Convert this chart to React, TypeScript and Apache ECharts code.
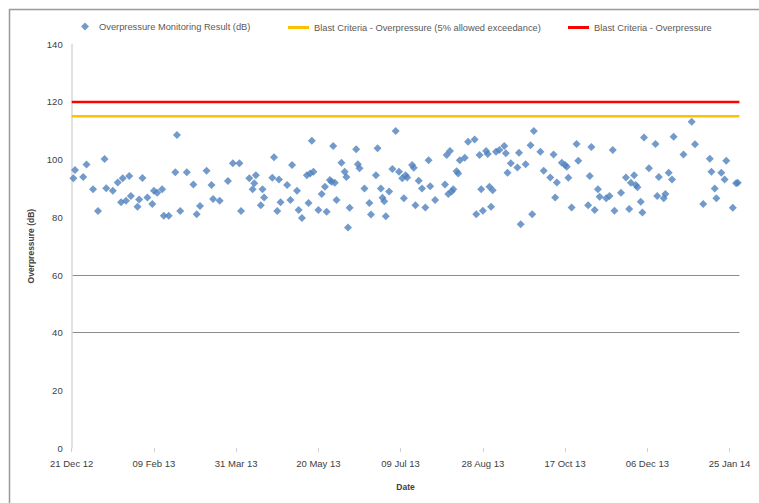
import React, { useEffect, useRef } from "react";
import * as echarts from "echarts";

// Days since 21 Dec 2012 for each monitoring result
const sampleDay = [
  1, 2, 7, 9, 13, 16, 20, 21, 25, 28, 30, 31, 33, 35, 36, 40, 41, 43, 46, 49,
  50, 52, 55, 56, 59, 63, 64, 66, 70, 74, 76, 78, 82, 85, 86, 90, 95, 98, 102, 103,
  108, 110, 111, 112, 116, 117, 115, 122, 123, 126, 127, 125, 131, 133, 134, 137, 138, 140, 143, 144,
  145, 146, 147, 150, 152, 154, 155, 157, 158, 160, 159, 161, 164, 166, 167, 168, 169, 173, 174, 175,
  178, 181, 182, 185, 186, 188, 189, 190, 191, 193, 195, 197, 199, 201, 202, 203, 204, 207, 208,
  209, 211, 213, 215, 217, 218, 221, 227, 228, 230, 229, 231, 232, 234, 235, 236, 239, 241, 245, 246,
  248, 249, 250, 252, 253, 254, 256, 255, 258, 260, 263, 264, 265, 267, 271, 272, 273, 276, 279, 280,
  281, 285, 287, 291, 293, 294, 295, 298, 300, 301, 302, 304, 307, 308,
  314, 315, 316, 318, 320, 321, 325, 327, 329, 330, 334, 337, 339, 340, 342, 343, 344, 346, 347, 348,
  351, 355, 356, 357, 360, 361, 363, 365, 366, 372, 377, 379, 384, 388, 389, 391, 392, 395, 397, 398,
  402, 404, 405,
];

// Overpressure monitoring results (dB)
const overpressure = [
  93.5, 96.4, 94.0, 98.3, 89.7, 82.2, 100.2, 90.1, 89.2, 92.1, 85.2, 93.5, 85.7, 94.3, 87.4, 83.7, 86.2, 93.6, 86.9, 84.6,
  89.2, 88.5, 89.7, 80.5, 80.5, 95.6, 108.5, 82.2, 95.6, 91.4, 81.1, 83.9, 96.1, 91.2, 86.3, 85.7, 92.6, 98.7, 98.7, 82.2,
  93.5, 89.7, 91.8, 94.6, 89.7, 86.9, 84.2, 93.7, 100.8, 93.1, 85.2, 82.2, 91.2, 86.0, 98.1, 89.2, 82.5, 79.8, 94.6, 85.0,
  95.2, 106.5, 95.8, 82.5, 88.1, 90.6, 81.9, 92.9, 92.3, 92.0, 104.7, 86.0, 98.9, 95.8, 94.0, 76.5, 83.3, 103.6, 98.4, 97.0,
  90.0, 85.0, 81.0, 94.6, 103.9, 90.0, 86.8, 85.6, 80.4, 88.9, 96.7, 109.9, 95.8, 93.5, 86.6, 94.6, 93.8, 98.1, 97.2,
  84.2, 92.7, 90.0, 83.4, 99.8, 90.8, 86.0, 91.4, 101.6, 103.0, 88.1, 88.9, 89.7, 96.0, 95.2, 99.8, 100.6, 106.2, 107.0, 81.1,
  101.6, 89.7, 82.3, 103.0, 101.9, 90.6, 89.4, 83.7, 102.7, 103.3, 104.7, 102.2, 95.4, 98.7, 97.3, 102.4, 77.6, 98.4, 105.0, 81.1,
  109.9, 102.7, 96.1, 93.8, 101.8, 86.9, 92.1, 98.9, 98.1, 97.5, 93.7, 83.4, 105.4, 99.6,
  84.2, 94.3, 104.4, 82.5, 89.7, 87.1, 86.6, 87.4, 103.3, 82.3, 88.5, 93.8, 82.9, 92.0, 94.6, 91.2, 90.4, 85.4, 81.7, 107.7,
  97.0, 105.4, 87.4, 94.0, 86.6, 88.1, 95.4, 93.1, 107.9, 101.8, 113.1, 105.3, 84.6, 100.3, 95.8, 90.0, 86.6, 95.4, 93.1, 99.6,
  83.3, 91.8, 92.0,
];

// Criteria lines span the whole axis (days since 21 Dec 2012)
const criteriaDays = [0, 406];
const exceedanceCriterion = [115, 115];
const blastCriterion = [120, 120];

const xTickDays = [0, 50, 100, 150, 200, 250, 300, 350, 400];
const startUTC = Date.UTC(2012, 11, 21);
const monthNames = ["Jan", "Feb", "Mar", "Apr", "May", "Jun", "Jul", "Aug", "Sep", "Oct", "Nov", "Dec"];

const seriesNames = [
  "Overpressure Monitoring Result (dB)",
  "Blast Criteria - Overpressure (5% allowed exceedance)",
  "Blast Criteria - Overpressure",
];

function fmtDay(d: number): string {
  const dt = new Date(startUTC + Math.round(d) * 86400000);
  const dd = String(dt.getUTCDate()).padStart(2, "0");
  const yy = String(dt.getUTCFullYear() % 100).padStart(2, "0");
  return `${dd} ${monthNames[dt.getUTCMonth()]} ${yy}`;
}

export default function App() {
  const ref = useRef<HTMLDivElement>(null);
  useEffect(() => {
    if (!ref.current) return;
    const chart = echarts.init(ref.current, undefined, { renderer: "svg" });
    const font = "Liberation Sans";
    const legendText = { fontFamily: font, fontSize: 9.3, color: "#595959" };
    chart.setOption({
      animation: false,
      backgroundColor: "#ffffff",
      graphic: [
        {
          type: "rect",
          shape: { x: 9.5, y: 9.5, width: 780, height: 520 },
          style: { fill: "none", stroke: "#999999", lineWidth: 1.5 },
          silent: true,
        },
      ],
      legend: [
        {
          data: [seriesNames[0]],
          left: 76,
          top: 17,
          itemWidth: 8,
          itemHeight: 8,
          textStyle: { ...legendText, padding: [0, 0, 0, 5] },
        },
        {
          data: [{ name: seriesNames[1], icon: "rect" }],
          left: 283,
          top: 18,
          itemWidth: 21,
          itemHeight: 3,
          textStyle: legendText,
        },
        {
          data: [{ name: seriesNames[2], icon: "rect" }],
          left: 563,
          top: 18,
          itemWidth: 21,
          itemHeight: 3,
          textStyle: legendText,
        },
      ],
      grid: { left: 71.7, right: 19.6, top: 44.2, bottom: 54.9, containLabel: false },
      xAxis: {
        type: "value",
        min: 0,
        max: 406,
        interval: 50,
        name: "Date",
        nameLocation: "middle",
        nameGap: 34,
        nameTextStyle: { fontFamily: font, fontSize: 8.5, fontWeight: "bold", color: "#404040" },
        axisLine: { show: false },
        axisTick: {
          show: true,
          length: 4,
          customValues: xTickDays,
          lineStyle: { color: "#cfcfcf", width: 1 },
        },
        axisLabel: {
          customValues: xTickDays,
          formatter: (v: number) => fmtDay(v),
          fontFamily: font,
          fontSize: 9.5,
          color: "#404040",
          margin: 10,
        },
        splitLine: { show: false },
      },
      yAxis: {
        type: "value",
        min: 0,
        max: 140,
        interval: 20,
        name: "Overpressure (dB)",
        nameLocation: "middle",
        nameGap: 34,
        nameRotate: 90,
        nameTextStyle: { fontFamily: font, fontSize: 8.5, fontWeight: "bold", color: "#404040" },
        axisLine: { show: true, lineStyle: { color: "#d9d9d9", width: 1.5 } },
        axisTick: { show: false },
        axisLabel: { fontFamily: font, fontSize: 9.5, color: "#404040", margin: 9 },
        splitLine: {
          show: true,
          lineStyle: {
            color: [
              "rgba(0,0,0,0)",
              "rgba(0,0,0,0)",
              "#8c8c8c",
              "#8c8c8c",
              "rgba(0,0,0,0)",
              "rgba(0,0,0,0)",
              "rgba(0,0,0,0)",
              "rgba(0,0,0,0)",
            ],
            width: 1.2,
          },
        },
      },
      series: [
        {
          name: seriesNames[0],
          type: "scatter",
          symbol: "diamond",
          symbolSize: 8,
          itemStyle: { color: "#4F81BD" },
          data: sampleDay.map((d, i) => [d, overpressure[i]]),
          z: 3,
        },
        {
          name: seriesNames[1],
          type: "line",
          showSymbol: false,
          symbol: "none",
          lineStyle: { color: "#FFC000", width: 2.5 },
          itemStyle: { color: "#FFC000" },
          data: criteriaDays.map((d, i) => [d, exceedanceCriterion[i]]),
          z: 2,
        },
        {
          name: seriesNames[2],
          type: "line",
          showSymbol: false,
          symbol: "none",
          lineStyle: { color: "#FF0000", width: 2.5 },
          itemStyle: { color: "#FF0000" },
          data: criteriaDays.map((d, i) => [d, blastCriterion[i]]),
          z: 2,
        },
      ],
    });
    return () => chart.dispose();
  }, []);
  return (
    <div
      ref={ref}
      style={{ position: "fixed", left: 0, top: 0, width: 759, height: 503, background: "#fff" }}
    />
  );
}
